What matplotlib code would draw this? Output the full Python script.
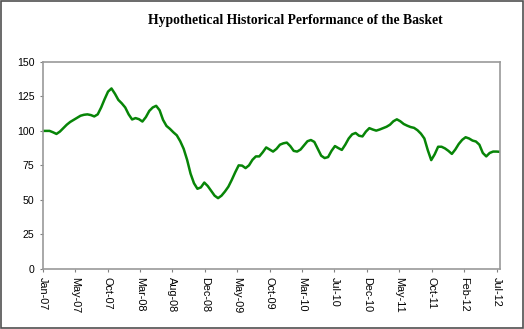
import matplotlib
matplotlib.use("Agg")
import matplotlib.pyplot as plt
import numpy as np
from matplotlib.patches import Rectangle

title = "Hypothetical Historical Performance of the Basket"
tick_labels = ["Jan-07", "May-07", "Oct-07", "Mar-08", "Aug-08", "Dec-08", "May-09",
               "Oct-09", "Mar-10", "Jul-10", "Dec-10", "May-11", "Oct-11", "Feb-12", "Jul-12"]
y_ticks = [0, 25, 50, 75, 100, 125, 150]

# semi-monthly basket level, starting Jan-07
basket = [
    100, 100, 100, 99, 97.8, 99.5, 102, 104.5, 106.5, 108,
    109.5, 111, 111.7, 112, 111.5, 110.5, 112, 117, 123, 128.5,
    130.8, 127, 122.5, 120, 117, 112, 108.3, 109.3, 108.5, 106.8,
    110, 114.5, 117, 118.2, 115, 108, 103.6, 101.5, 99, 96.8,
    92.5, 87, 79, 69, 62, 58, 59, 62.5, 60, 56.5,
    53, 51.2, 53, 56, 59.5, 64.5, 70, 75, 74.8, 73,
    75, 79, 81.5, 81.5, 84.5, 88, 86.5, 85, 87, 90,
    91, 91.5, 89, 85.5, 85, 86.5, 89.5, 92.5, 93.4, 92,
    87, 82, 80.3, 81, 85.5, 89, 87.5, 86.2, 90, 94.5,
    97.5, 98.5, 96.5, 96, 99.5, 102, 101, 100.2, 101, 102,
    103, 104.5, 107, 108.4, 107, 105, 103.8, 102.8, 102.2, 100.5,
    98, 94.5, 86, 78.8, 83, 88.5, 88.5, 87.3, 85.5, 83.3,
    86.5, 90.5, 93.5, 95.4, 94.5, 93, 92.3, 90, 84, 81.5,
    84, 85, 85, 84.8,
]
months = np.arange(len(basket)) * 0.5

fig = plt.figure(figsize=(5.24, 3.29), dpi=100)
ax = fig.add_axes([42.7 / 524, 1 - 268.7 / 329, (500 - 42.7) / 524, (268.7 - 62) / 329])

ax.plot(months, basket, color="#078507", lw=1.8, solid_joinstyle="round", solid_capstyle="round")

ax.set_xlim(0, 66.5)
ax.set_ylim(0, 150)
ax.set_yticks(y_ticks)
ax.set_xticks(np.linspace(0, 66, len(tick_labels)))
ax.set_xticklabels(tick_labels, rotation=270, fontfamily="Liberation Sans", fontsize=7.8)
ax.set_yticklabels([str(t) for t in y_ticks], fontfamily="Liberation Sans", fontsize=7.6)
ax.tick_params(axis="both", direction="out", length=2.5, width=0.8, color="#808080", pad=3.5,
               labelcolor="#000000")

for s in ax.spines.values():
    s.set_color("#9a9a9a")
    s.set_linewidth(1.2)

fig.text(295 / 524, 1 - 20.5 / 329, title, ha="center", va="center",
         fontfamily="Liberation Serif", fontweight="bold", fontsize=9.8)

# outer chart frame
fig.patches.append(Rectangle((0.002, 0.004), 0.996, 0.994, transform=fig.transFigure,
                             fill=False, edgecolor="#505050", lw=1.2))

fig.savefig("out.png", dpi=100)
